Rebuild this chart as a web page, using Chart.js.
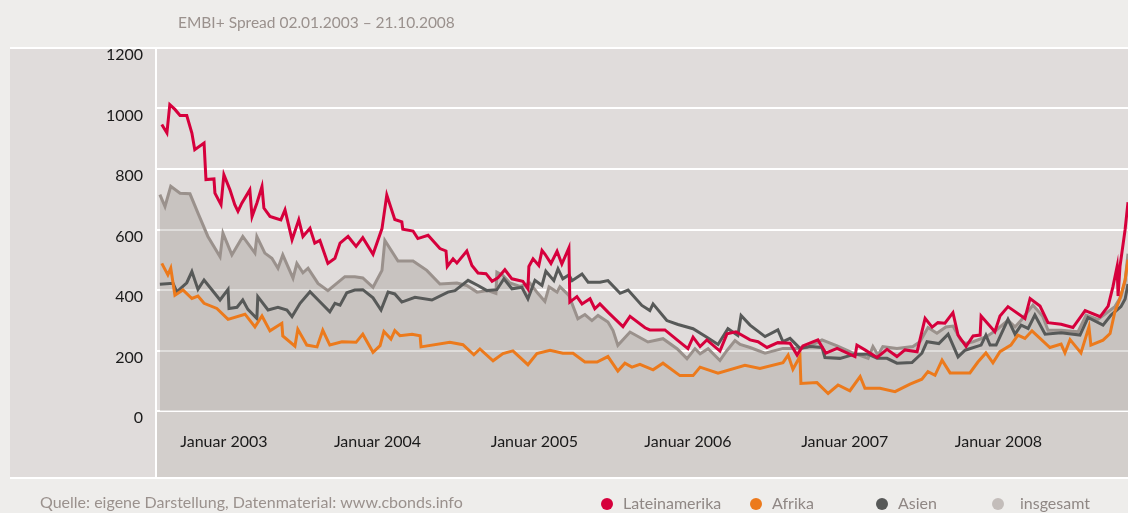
<!DOCTYPE html>
<html>
<head>
<meta charset="utf-8">
<script src="https://cdn.jsdelivr.net/npm/chart.js@4.4.0/dist/chart.umd.min.js"></script>
<style>
  html, body { margin: 0; padding: 0; background: #eeedeb; }
  #wrap { width: 1128px; height: 513px; }
</style>
</head>
<body>
<div id="wrap"><canvas id="myChart" width="1128" height="513"></canvas></div>
<script>
// EMBI+ Spread 02.01.2003 - 21.10.2008, x = Wochen seit 02.01.2003
const latamWeeks = [0.6,2.2,3.1,4.7,6.3,8.4,10,10.9,13.8,14.4,16.9,17.2,19.1,20,21.9,23.4,24.4,25.6,28.1,28.8,30.3,31.9,32.5,34.4,35.9,37.8,39.1,41.3,43.4,44.7,46.9,48.4,50,52.5,54.7,56.3,58.8,61.3,63.4,66.6,69.4,70.9,73.4,75.6,75.9,79.1,80.6,83.8,87.5,89.4,89.8,91.6,92.8,95.9,97.5,99.4,101.9,103.8,105.6,107.8,110,113.4,115,115.3,116.6,118.4,119.4,120.3,122.2,124.1,125.6,127.8,128.1,130.3,131.9,134.4,135.9,137.5,140,144.7,146.9,151.6,153.1,157.8,161.6,165,166.6,168.8,170.9,175,177.2,180,184.4,186.9,189.7,193.1,196.9,199.1,200.9,205.6,208.1,211.6,217.2,217.8,220.3,224.1,227.2,230.3,232.8,236.6,239.1,241.3,243.1,245.3,247.8,249.4,251.9,254.1,256.3,256.6,260.9,262.5,265,270.3,271.9,275,277.5,281.6,285.3,289.1,293.8,296.3,297.8,299.1,299.4,300,301.6,302.5];
const latamValues = [947,919,1013,997,977,977,919,864,886,765,767,720,682,781,731,682,660,687,731,643,687,742,671,643,638,632,665,566,632,577,604,555,564,488,505,555,577,544,573,518,603,714,633,625,601,595,570,581,537,529,478,503,489,529,481,456,454,429,440,467,437,429,404,478,503,481,531,519,488,528,486,539,360,378,354,371,338,354,327,279,313,275,268,268,235,206,244,213,235,198,255,262,235,229,210,226,224,185,215,235,191,207,180,218,202,177,204,180,202,196,306,277,292,290,325,251,214,248,251,314,262,314,345,306,372,347,292,287,276,332,312,347,411,478,380,478,600,690];

const afrikaWeeks = [0.6,2.5,3.4,4.7,7.2,10,11.9,13.8,17.8,21.3,26.6,29.7,31.9,34.4,38.1,38.4,42.2,43.1,45.9,49.1,50.9,53.1,56.9,61.3,63.4,66.6,68.8,70,72.2,73.4,75,78.8,81.3,81.6,90.6,94.7,98.1,100,104.1,107.2,110.3,115,117.8,121.9,125.9,129.1,132.8,136.6,140,143.1,145.3,147.5,150,154.1,157.2,162.5,166.6,168.8,174.4,182.8,187.5,194.7,196.3,197.8,200,200.3,205.3,208.8,211.9,215.6,218.8,220.3,225,229.7,234.4,238.1,240,242.2,244.4,246.9,253.1,255.6,258.1,260.3,262.5,265.9,268.1,270.3,272.5,278.1,281.6,282.8,284.4,287.8,290.3,290.9,294.7,296.9,298.4,300,301.6,302.5];
const afrikaValues = [488,450,472,383,400,372,380,356,339,303,320,278,314,265,290,248,214,270,218,212,267,218,229,227,254,194,216,263,238,266,249,254,249,212,227,219,186,205,166,190,199,153,190,201,191,191,162,162,180,132,158,145,154,136,158,117,117,145,125,151,141,160,185,138,180,91,94,58,86,67,114,75,75,64,89,105,130,118,168,126,126,162,192,159,196,218,251,240,265,210,221,192,236,192,278,218,234,256,328,372,433,500];

const asienWeeks = [0,4.1,5.3,8.4,10,11.9,13.8,16.3,18.8,21.3,21.6,24.1,25.9,27.5,30.3,30.6,33.8,36.9,39.7,41.3,43.8,46.9,50,53.1,54.7,56.3,58.4,60.9,63.4,66.6,69.1,71.3,73.4,75.6,79.7,85,90,92.2,96.3,99.4,102.2,105.3,107.5,110,113.1,115,117.2,119.4,120.6,123.1,124.4,125.9,127.8,128.8,131.9,133.8,137.5,140,143.8,146.3,150.6,153.1,154.1,158.4,161.9,166.6,170.9,174.4,177.5,180.6,181.6,184.4,189.1,193.1,194.7,196.9,200,203.1,206.9,207.8,212.5,217.2,221.3,224.1,227.2,230.3,235,238.1,239.7,243.4,246.3,249.4,251.6,256.6,258.1,259.4,261.3,265,267.2,269.1,271.3,273.4,276.6,281.6,287.5,290,294.7,297.2,300.3,301.6,302.5];
const asienValues = [419,422,394,424,461,402,433,400,367,402,339,343,367,336,306,378,334,343,334,312,356,394,361,328,356,350,391,400,401,374,334,393,387,360,376,367,393,398,432,415,398,401,437,404,409,371,432,415,462,431,470,437,450,431,453,426,426,431,389,400,349,332,354,299,286,272,244,220,272,250,316,284,246,268,229,240,207,213,210,177,174,188,188,174,174,158,160,191,229,223,254,179,201,218,251,218,218,303,254,284,273,317,254,259,251,309,284,317,345,370,420];

const gesamtWeeks = [0,1.6,3.4,6.3,9.4,11.9,15,18.8,19.7,22.5,25.9,29.7,30.3,32.8,35,36.9,38.4,41.6,42.8,44.7,46.3,49.4,52.5,57.8,60.9,63.4,66.6,69.4,70.3,74.4,79.1,83.4,87.5,92.8,95.9,99.1,102.5,105,105.3,107.2,109.4,112.5,115.6,118.1,120.3,121.6,124.1,125,127.8,130.6,132.8,135,136.9,140,141.6,143.1,146.9,152.5,157.2,161.6,164.7,167.2,168.8,171.3,175,177.2,179.7,181.3,184.4,189.1,194.7,199.1,202.2,206.9,211.6,216.3,221.3,222.8,224.4,225.9,230.3,235.3,237.5,240,242.8,245.6,247.8,250.3,251.6,254.1,258.1,261.3,265,267.2,269.1,272.8,275.9,277.5,281.6,286.9,289.4,293.1,296.3,298.4,300.3,301.6,302.5];
const gesamtValues = [715,676,743,720,718,654,577,510,588,516,577,522,577,522,505,472,516,439,488,457,472,422,398,444,444,440,409,465,564,496,496,465,420,423,415,393,398,389,459,448,423,412,423,389,362,410,393,411,382,305,319,299,316,294,266,217,261,228,239,206,173,206,189,206,167,200,233,220,210,191,207,207,210,235,215,193,174,213,185,213,207,213,229,276,257,278,281,234,223,229,245,267,300,278,300,350,312,267,267,262,317,303,328,345,378,430,520];

const tickWeeks = [20, 68, 117, 165, 214, 262];
const tickLabels = ['Januar 2003', 'Januar 2004', 'Januar 2005', 'Januar 2006', 'Januar 2007', 'Januar 2008'];

const seriesNames = ['Lateinamerika', 'Afrika', 'Asien', 'insgesamt'];

function pts(weeks, values) {
  return weeks.map(function(w, i) { return { x: w, y: values[i] }; });
}

const FONT = 'Lato, "Open Sans", sans-serif';

// Hintergrund, Rahmenlinien, Titel, Quelle, Legende
const deko = {
  id: 'deko',
  beforeDraw(chart) {
    const ctx = chart.ctx;
    ctx.save();
    ctx.fillStyle = '#eeedeb';
    ctx.fillRect(0, 0, 1128, 513);
    ctx.fillStyle = '#e0dcdb';
    ctx.fillRect(10, 48, 1118, 431);
    ctx.fillStyle = '#d3cfcc';
    ctx.fillRect(157, 411, 971, 67);
    ctx.fillStyle = '#ffffff';
    ctx.fillRect(10, 47, 1118, 2);
    ctx.fillRect(10, 477, 1118, 2);
    ctx.fillRect(155, 47, 2, 432);
    ctx.restore();
  },
  afterDraw(chart) {
    const ctx = chart.ctx;
    ctx.save();
    ctx.textBaseline = 'middle';
    ctx.fillStyle = '#9a918d';
    ctx.font = '15.5px ' + FONT;
    ctx.fillText('EMBI+ Spread 02.01.2003 \u2013 21.10.2008', 178, 23);
    ctx.font = '16px ' + FONT;
    ctx.fillText('Quelle: eigene Darstellung, Datenmaterial: www.cbonds.info', 40, 503);

    const dotX = [607, 756, 882, 998];
    chart.data.datasets.forEach(function(ds, i) {
      ctx.beginPath();
      ctx.arc(dotX[i], 504, 6, 0, Math.PI * 2);
      ctx.fillStyle = ds.legendColor;
      ctx.fill();
      ctx.fillStyle = '#8f8784';
      ctx.fillText(ds.label, dotX[i] + (i === 3 ? 22 : 16), 504);
    });
    ctx.restore();
  }
};

const ctx = document.getElementById('myChart').getContext('2d');

const chart = new Chart(ctx, {
  type: 'line',
  data: {
    datasets: [{
      label: seriesNames[0],
      data: pts(latamWeeks, latamValues),
      borderColor: '#d6003c',
      legendColor: '#d6003c',
      borderWidth: 3,
      fill: false
    }, {
      label: seriesNames[1],
      data: pts(afrikaWeeks, afrikaValues),
      borderColor: '#ec7a1c',
      legendColor: '#ec7a1c',
      borderWidth: 3,
      fill: false
    }, {
      label: seriesNames[2],
      data: pts(asienWeeks, asienValues),
      borderColor: '#575958',
      legendColor: '#575958',
      borderWidth: 3,
      fill: false
    }, {
      label: seriesNames[3],
      data: pts(gesamtWeeks, gesamtValues),
      borderColor: '#9a918c',
      legendColor: '#c3bdba',
      backgroundColor: 'rgba(127,119,110,0.25)',
      borderWidth: 3,
      fill: 'origin'
    }]
  },
  options: {
    responsive: false,
    animation: false,
    layout: { padding: { top: 48, bottom: 35, left: 0, right: 0 } },
    elements: { point: { radius: 0 }, line: { tension: 0 } },
    plugins: {
      legend: { display: false },
      title: { display: false },
      tooltip: { enabled: false }
    },
    scales: {
      x: {
        type: 'linear',
        min: -0.9,
        max: 302.5,
        grid: { display: false, drawTicks: false },
        border: { display: false },
        afterFit: function(scale) { scale.height = 67; },
        afterBuildTicks: function(scale) {
          scale.ticks = tickWeeks.map(function(w) { return { value: w }; });
        },
        ticks: {
          autoSkip: false,
          maxRotation: 0,
          padding: 21,
          color: '#1a1a1a',
          font: { family: FONT, size: 16 },
          callback: function(value) {
            const i = tickWeeks.indexOf(value);
            return i >= 0 ? tickLabels[i] : '';
          }
        }
      },
      y: {
        min: 0,
        max: 1200,
        grid: { color: '#ffffff', lineWidth: 2, drawTicks: false },
        border: { display: false },
        afterFit: function(scale) { scale.width = 157; },
        ticks: {
          stepSize: 200,
          padding: 14,
          labelOffset: 7,
          color: '#1a1a1a',
          font: { family: FONT, size: 16 },
          callback: function(value) { return String(value); }
        }
      }
    }
  },
  plugins: [deko]
});
</script>
</body>
</html>
